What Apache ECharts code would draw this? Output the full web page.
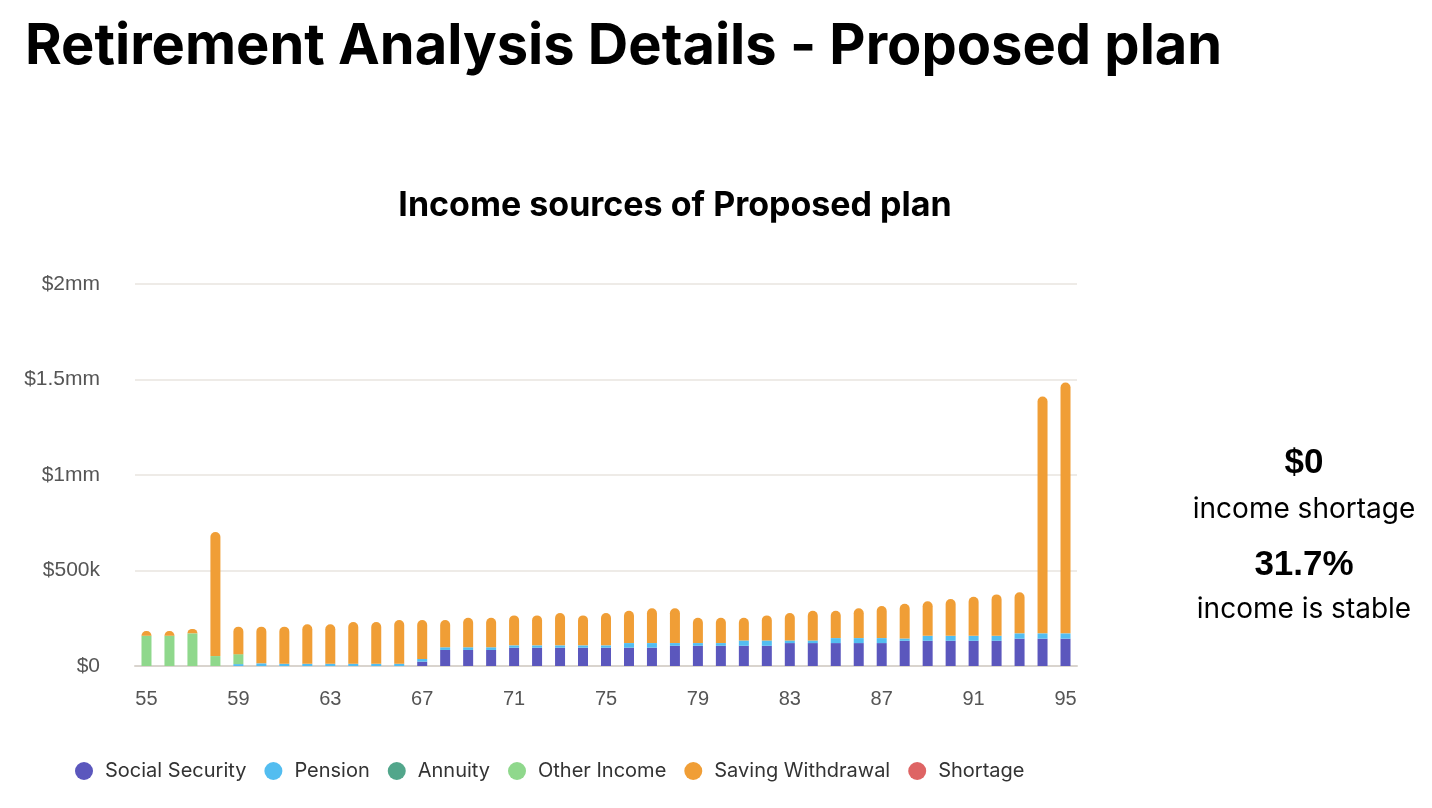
<!DOCTYPE html>
<html>
<head>
<meta charset="utf-8">
<script src="https://cdn.jsdelivr.net/npm/echarts@6/dist/echarts.min.js"></script>
<style>
  html, body { margin: 0; padding: 0; background: #fff; }
  #main { width: 1432px; height: 808px; }
</style>
</head>
<body>
<div id="main"></div>
<script>
// ages 55..95
var ages = [];
for (var a = 55; a <= 95; a++) ages.push(String(a));

var socialSecurity = [0,0,0,0,0,0,0,0,0,0,0,0,23,84,84,84,96,96,96,96,96,96,96,106,106,106,106,106,120,120,120,120,120,132,132,132,132,132,143,143,143];
var pension       = [0,0,0,0,10,14,12,12,12,12,12,12,14,14,14,14,12,12,12,12,12,24,24,14,14,14,28,28,14,14,26,26,26,12,26,26,26,26,28,28,28];
var annuity       = [0,0,0,0,0,0,0,0,0,0,0,0,0,0,0,0,0,0,0,0,0,0,0,0,0,0,0,0,0,0,0,0,0,0,0,0,0,0,0,0,0];
var otherIncome   = [159,159,171,52,52,0,0,0,0,0,0,0,0,0,0,0,0,0,0,0,0,0,0,0,0,0,0,0,0,0,0,0,0,0,0,0,0,0,0,0,0];
var savingWithdrawal = [24,24,23,650,144,192,194,206,206,218,218,229,204,143,155,155,157,157,169,157,169,169,182,182,133,133,119,131,143,155,143,156,168,182,181,193,205,217,215,1240,1313];
var shortage      = [0,0,0,0,0,0,0,0,0,0,0,0,0,0,0,0,0,0,0,0,0,0,0,0,0,0,0,0,0,0,0,0,0,0,0,0,0,0,0,0,0];
var yTicks = { 0: '$0', 500: '$500k', 1000: '$1mm', 1500: '$1.5mm', 2000: '$2mm' };

var chart = echarts.init(document.getElementById('main'));

function seg(name, data, color, top) {
    return {
        name: name,
        type: 'bar',
        stack: 'income',
        barWidth: 10,
        data: data,
        itemStyle: { color: color, borderRadius: top ? [5, 5, 0, 0] : 0 }
    };
}

var option = {
    animation: false,
    textStyle: { fontFamily: 'Inter' },
    title: [
        {
            text: 'Retirement Analysis Details - Proposed plan',
            left: 20, top: 14,
            textStyle: { fontSize: 56, fontWeight: 'bold', color: '#000', fontFamily: 'Inter' }
        },
        {
            text: 'Income sources of Proposed plan',
            left: 670, top: 184, textAlign: 'center',
            textStyle: { fontSize: 34, fontWeight: 'bold', color: '#000', fontFamily: 'Inter' }
        },
        {
            text: '$0',
            left: 1299, top: 441, textAlign: 'center',
            textStyle: { fontSize: 35, fontWeight: 'bold', color: '#000', fontFamily: 'Liberation Sans' }
        },
        {
            text: 'income shortage',
            left: 1299, top: 491, textAlign: 'center',
            textStyle: { fontSize: 28, fontWeight: 'normal', color: '#000', fontFamily: 'Inter' }
        },
        {
            text: '31.7%',
            left: 1299, top: 543, textAlign: 'center',
            textStyle: { fontSize: 35, fontWeight: 'bold', color: '#000', fontFamily: 'Liberation Sans' }
        },
        {
            text: 'income is stable',
            left: 1299, top: 591, textAlign: 'center',
            textStyle: { fontSize: 28, fontWeight: 'normal', color: '#000', fontFamily: 'Inter' }
        }
    ],
    legend: {
        left: 70, top: 756,
        icon: 'circle',
        itemWidth: 32, itemHeight: 18, itemGap: 18,
        textStyle: { fontSize: 20, color: '#333', fontFamily: 'Inter' },
        data: ['Social Security', 'Pension', 'Annuity', 'Other Income', 'Saving Withdrawal', 'Shortage']
    },
    grid: { left: 135, right: 355, top: 284, bottom: 142, containLabel: false },
    xAxis: {
        type: 'category',
        data: ages,
        axisTick: { show: false },
        axisLine: { lineStyle: { color: '#d9d4ce', width: 2 } },
        axisLabel: { interval: 3, color: '#555', fontSize: 20, margin: 23, fontFamily: 'Liberation Sans' }
    },
    yAxis: {
        type: 'value',
        min: 0, max: 2000, interval: 500,
        axisLine: { show: false },
        axisTick: { show: false },
        splitLine: { lineStyle: { color: '#eeebe7', width: 2 } },
        axisLabel: {
            color: '#555', fontSize: 21, margin: 35, fontFamily: 'Liberation Sans',
            formatter: function (v) { return yTicks[v]; }
        }
    },
    series: [
        seg('Social Security', socialSecurity, '#5b57bd', false),
        seg('Pension', pension, '#53bdf0', false),
        seg('Annuity', annuity, '#52a68b', false),
        seg('Other Income', otherIncome, '#8fd88c', false),
        seg('Saving Withdrawal', savingWithdrawal, '#f09e36', true),
        seg('Shortage', shortage, '#de6464', true)
    ]
};
chart.setOption(option);
</script>
</body>
</html>
